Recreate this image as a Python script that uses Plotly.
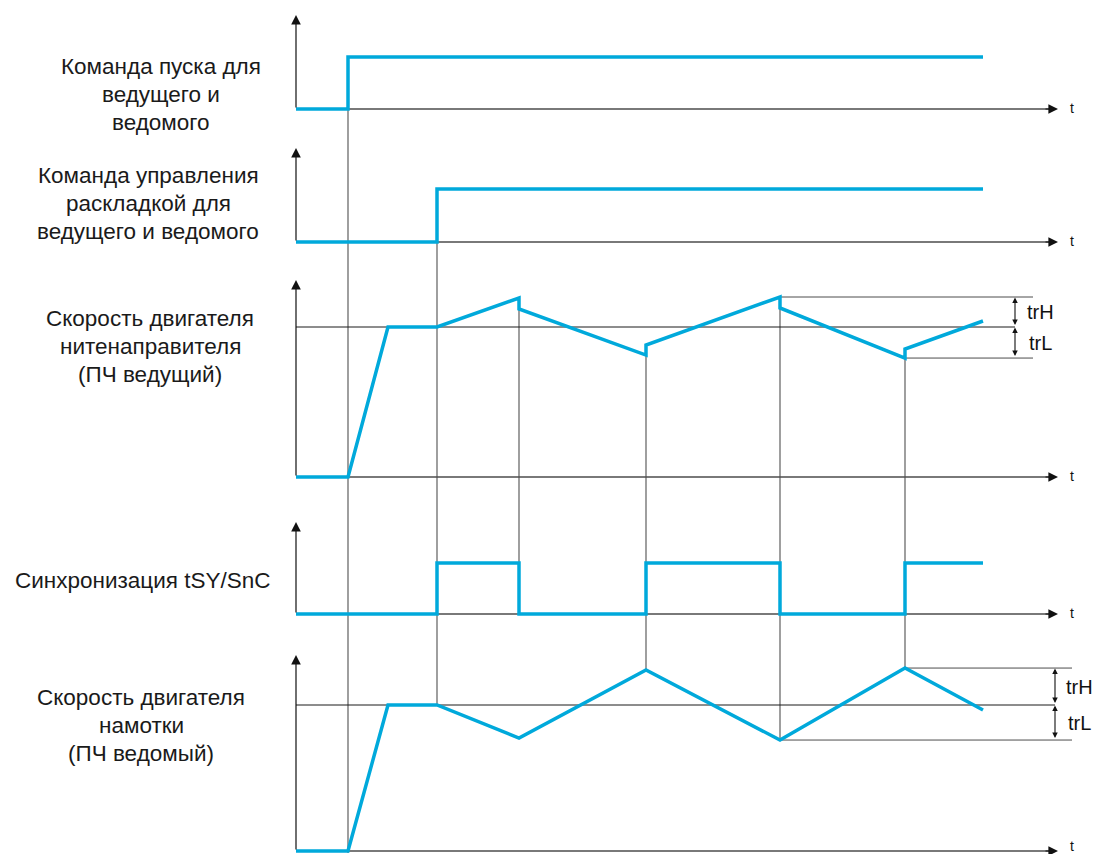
import plotly.graph_objects as go

# ---------------- data (time in arbitrary units from axis origin) ----------------
run_t = [0, 52, 52, 687]
run_v = [0, 0, 1, 1]

trav_t = [0, 141, 141, 687]
trav_v = [0, 0, 1, 1]

master_t = [0, 52, 92, 141, 223, 223, 350, 350, 484, 484, 609, 609, 687]
master_v = [0, 0, 100, 100, 119.3, 112, 81.3, 88, 120, 112.7, 79.3, 85.3, 104]

sync_t = [0, 141, 141, 223, 223, 350, 350, 484, 484, 609, 609, 687]
sync_v = [0, 0, 1, 1, 0, 0, 1, 1, 0, 0, 1, 1]

slave_t = [0, 52, 92, 141, 223, 350, 484, 609, 687]
slave_v = [0, 0, 100, 100, 77.4, 124, 76, 125.3, 96.6]

master_trH = 120
master_trL = 79.3
slave_trH = 125.3
slave_trL = 76

labels = [
    ["Команда пуска для", "ведущего и", "ведомого"],
    ["Команда управления", "раскладкой для", "ведущего и ведомого"],
    ["Скорость двигателя", "нитенаправителя", "(ПЧ ведущий)"],
    ["Синхронизация tSY/SnC"],
    ["Скорость двигателя", "намотки", "(ПЧ ведомый)"],
]
band_labels = ["trH", "trL"]
axis_label = "t"

# ---------------- layout geometry ----------------
W, H = 1093, 854
X0 = 296            # time origin in pixels
X_END_ARROW = 1058
baselines = [109, 242, 477, 614, 851]
tops = [15, 148, 280, 522, 655]
dig_h = [52, 53, None, 51, None]
ana_scale = {2: 1.5, 4: 1.46}   # px per %
label_cx = [161, 148, 150, 143, 141]
label_y0 = [66, 175, 318, 580, 697]
LINE_STEP = 28.2

BLUE = "#00A9DB"
AXIS = "#4d4d4d"
VGRAY = "#6b6b6b"
REF = "#1a1a1a"
FONT = "Liberation Sans, Arial, sans-serif"


def px(t):
    return X0 + t


def py(panel, v):
    if panel in ana_scale:
        return baselines[panel] - v * ana_scale[panel]
    return baselines[panel] - v * dig_h[panel]


signals = [(0, run_t, run_v), (1, trav_t, trav_v), (2, master_t, master_v),
           (3, sync_t, sync_v), (4, slave_t, slave_v)]


def vals_at(sig, t):
    _, ts, vs = sig
    return [v for tt, v in zip(ts, vs) if tt == t]


fig = go.Figure()


def line(xs, ys, color, width):
    fig.add_trace(go.Scatter(x=xs, y=ys, mode="lines",
                             line=dict(color=color, width=width),
                             hoverinfo="skip", showlegend=False))


# vertical connectors: (time, top signal, bottom signal, mode)
connectors = [
    (run_t[1], 0, 4, "base"),
    (trav_t[1], 1, 4, None),
    (master_t[4], 2, 3, None),
    (master_t[6], 2, 4, None),
    (master_t[8], 2, 4, None),
    (master_t[10], 2, 4, None),
]
for t, ptop, pbot, mode in connectors:
    ytop = min(py(ptop, v) for v in vals_at(signals[ptop], t))
    if mode == "base":
        ybot = baselines[pbot] + 2
    else:
        ybot = max(py(pbot, v) for v in vals_at(signals[pbot], t))
    line([px(t), px(t)], [ytop, ybot], VGRAY, 1.3)

# baselines
for b in baselines:
    line([X0, X_END_ARROW - 6], [b, b], AXIS, 1.3)

# reference / band lines
line([X0, 1015], [py(2, 100)] * 2, REF, 1)
line([px(master_t[8]), 1033], [py(2, master_trH)] * 2, AXIS, 1)
line([px(master_t[10]), 1033], [py(2, master_trL)] * 2, AXIS, 1)
line([X0, 1055], [py(4, 100)] * 2, REF, 1)
line([px(slave_t[7]), 1072], [py(4, slave_trH)] * 2, AXIS, 1)
line([px(slave_t[6]), 1072], [py(4, slave_trL)] * 2, AXIS, 1)

# signals
for p, ts, vs in signals:
    line([px(t) for t in ts], [py(p, v) for v in vs], BLUE, 3.5)

annotations = []
# axis arrows
for i, (b, tp) in enumerate(zip(baselines, tops)):
    annotations.append(dict(x=X0, y=tp, ax=X0, ay=b, xref="x", yref="y", axref="x", ayref="y",
                            text="", showarrow=True, arrowhead=2, arrowsize=1.6,
                            arrowwidth=1.2, arrowcolor="#111"))
    annotations.append(dict(x=X_END_ARROW, y=b, ax=X_END_ARROW - 14, ay=b, xref="x", yref="y",
                            axref="x", ayref="y", text="", showarrow=True, arrowhead=2,
                            arrowsize=1.6, arrowwidth=1.2, arrowcolor="#111"))
    ty = b - 1 if i < len(baselines) - 1 else b - 5
    annotations.append(dict(x=1072, y=ty, xref="x", yref="y", text=axis_label,
                            showarrow=False, font=dict(family=FONT, size=14, color="#111")))

# double arrows for trH / trL
bands = [
    (1015, py(2, master_trH), py(2, 100), py(2, master_trL), 1040),
    (1055, py(4, slave_trH), py(4, 100), py(4, slave_trL), 1079),
]
for xa, yh, yr, yl, xl in bands:
    for y1, y2, lab in [(yh, yr, band_labels[0]), (yr, yl, band_labels[1])]:
        annotations.append(dict(x=xa, y=y1 + 0.5, ax=xa, ay=y2 - 0.5, xref="x", yref="y",
                                axref="x", ayref="y", text="", showarrow=True,
                                arrowhead=2, startarrowhead=2, arrowside="end+start",
                                arrowsize=1, startarrowsize=1, arrowwidth=1.1,
                                arrowcolor="#111"))
        annotations.append(dict(x=xl, y=(y1 + y2) / 2, xref="x", yref="y", text=lab,
                                showarrow=False,
                                font=dict(family=FONT, size=20, color="#111")))

# left labels
for cx, y0, lines_ in zip(label_cx, label_y0, labels):
    for i, s in enumerate(lines_):
        annotations.append(dict(x=cx, y=y0 + i * LINE_STEP, xref="x", yref="y", text=s,
                                showarrow=False, xanchor="center", yanchor="middle",
                                font=dict(family=FONT, size=22.5, color="#1a1a1a")))

fig.update_layout(
    width=W, height=H, autosize=False,
    margin=dict(l=0, r=0, t=0, b=0),
    paper_bgcolor="white", plot_bgcolor="white",
    xaxis=dict(range=[0, W], visible=False, fixedrange=True),
    yaxis=dict(range=[H, 0], visible=False, fixedrange=True),
    annotations=annotations,
    showlegend=False,
)

fig.write_html(
    "out.html",
    config={"displayModeBar": False},
    post_script="document.body.style.margin='0';document.body.style.overflow='hidden';",
)
